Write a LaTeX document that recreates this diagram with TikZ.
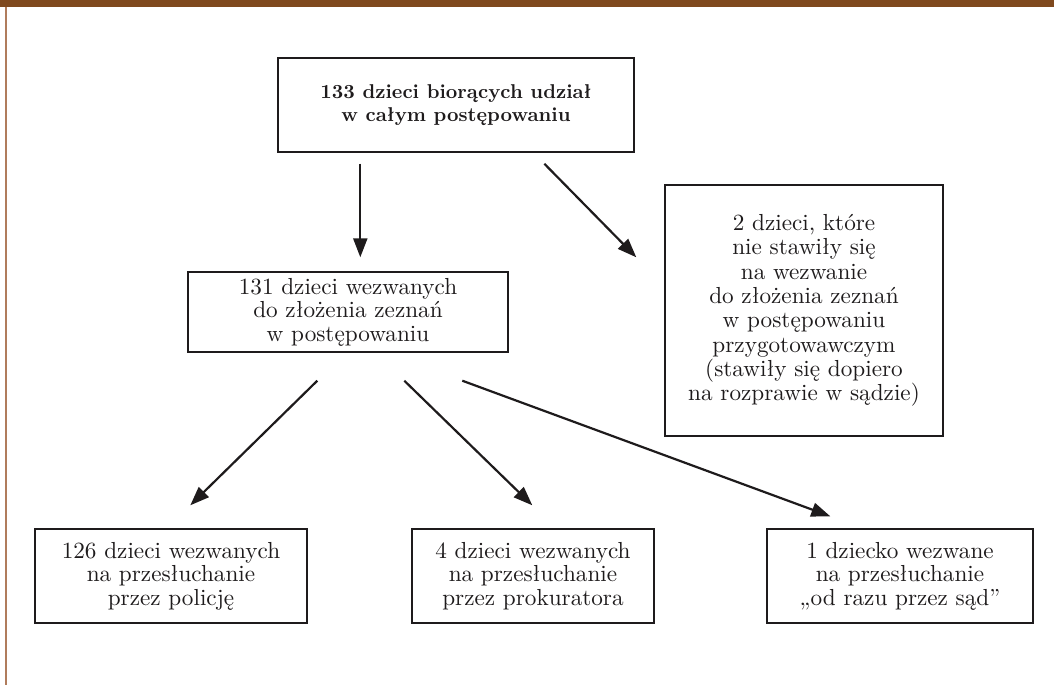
\documentclass[tikz,border=0pt]{standalone}
\usepackage{fontspec}
\setmainfont{lmroman10-regular.otf}[BoldFont=lmroman10-bold.otf]
\usetikzlibrary{arrows.meta,calc}
\definecolor{band}{RGB}{127,73,30}
\definecolor{rule}{RGB}{176,124,92}
\definecolor{ink}{RGB}{30,27,28}
\tikzset{
  box/.style={draw=ink,line width=1.4pt,inner sep=0pt,align=center,text=ink,
    font=\fontsize{23.2}{23.5}\selectfont},
  arr/.style={draw=ink,line width=2.2pt,-{Triangle[length=19pt,width=14pt]}},
}
\begin{document}
\begin{tikzpicture}[x=1pt,y=-1pt]
\useasboundingbox (0,0) rectangle (1054,685);
% frame: top band and left rule
\fill[band] (0,0) rectangle (1054,7.5);
\fill[rule] (4.8,7.5) rectangle (6.8,685);

% boxes
\node[box,minimum width=356pt,minimum height=94pt,font=\bfseries\fontsize{20}{23.5}\selectfont]
  (top) at (456,105) {133 dzieci biorących udział\\w całym postępowaniu};
\node[box,minimum width=320pt,minimum height=80pt]
  (mid) at (348,312) {131 dzieci wezwanych\\do złożenia zeznań\\w postępowaniu};
\node[box,minimum width=278pt,minimum height=251pt,font=\fontsize{23.2}{24.3}\selectfont]
  (right) at (804,310.5) {2 dzieci, które\\nie stawiły się\\na wezwanie\\do złożenia zeznań\\w postępowaniu\\przygotowawczym\\(stawiły się dopiero\\na rozprawie w sądzie)};
\node[box,minimum width=272pt,minimum height=94pt]
  (bl) at (171,576) {126 dzieci wezwanych\\na przesłuchanie\\przez policję};
\node[box,minimum width=242pt,minimum height=94pt]
  (bm) at (533,576) {4 dzieci wezwanych\\na przesłuchanie\\przez prokuratora};
\node[box,minimum width=266pt,minimum height=94pt]
  (br) at (900,576) {1 dziecko wezwane\\na przesłuchanie\\„od razu przez sąd”};

% connector end points, placed off the box edges
\path (top.south west) ++(83,11) coordinate (t1)
      (top.south west) ++(267,11) coordinate (t2)
      (mid.north west) ++(173,-14) coordinate (m0)
      (right.north west) ++(-28,73) coordinate (r0)
      (mid.south west) ++(130,28) coordinate (m1)
      (mid.south west) ++(217,28) coordinate (m2)
      (mid.south west) ++(275,28) coordinate (m3)
      (bl.north west) ++(156,-23) coordinate (bl0)
      (bm.north west) ++(121,-23) coordinate (bm0)
      (br.north west) ++(64,-12) coordinate (br0);

% connectors
\draw[arr] (t1) -- (m0);
\draw[arr] (t2) -- (r0);
\draw[arr] (m1) -- (bl0);
\draw[arr] (m2) -- (bm0);
\draw[arr] (m3) -- (br0);
\end{tikzpicture}
\end{document}
